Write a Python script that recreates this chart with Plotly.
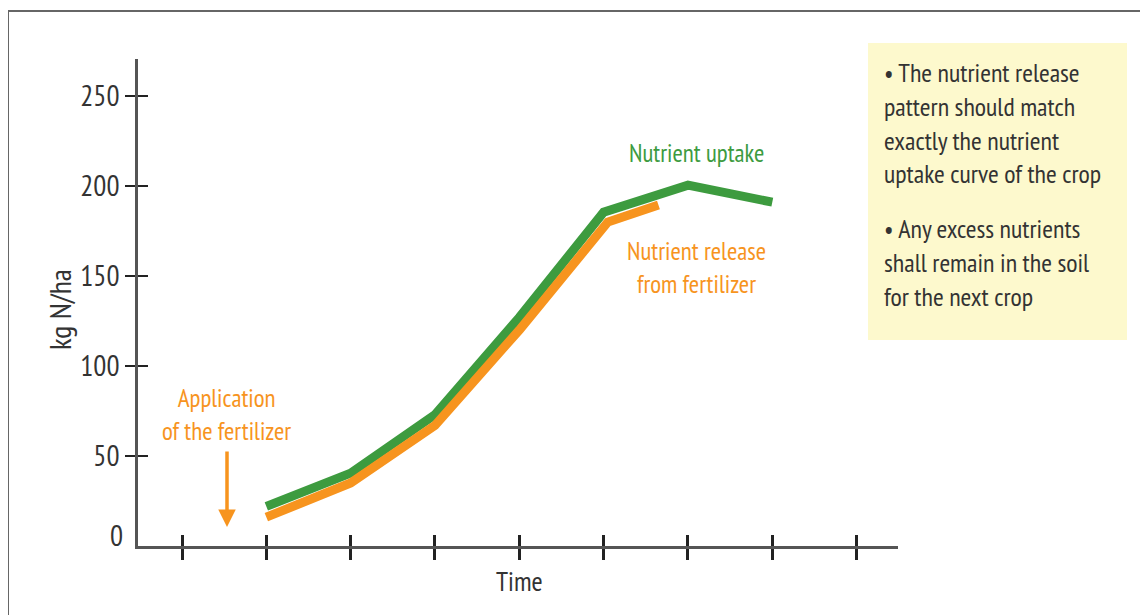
import plotly.graph_objects as go

# ---- data ----
time_uptake = [1, 2, 3, 4, 5, 6, 7]
uptake = [22, 40.5, 73, 127, 185.5, 200.5, 191]
time_release = [1, 2, 3, 4, 5.05, 5.65]
release = [16, 35, 67, 120, 180, 189.5]
x_ticks = [0, 1, 2, 3, 4, 5, 6, 7, 8]
y_ticks = [50, 100, 150, 200, 250]
y_tick_text = ["50", "100", "150", "200", "250"]

# page has an 8px body margin, so the figure is 8px smaller than the window
W, H = 1140, 607
OFF = 8
GREEN = "#3d9b3f"
ORANGE = "#f7941e"
TEXT = "#333333"
FONT = "PT Sans Narrow, Fira Sans Condensed, Asap Condensed, Archivo Narrow, sans-serif"


def px(x):
    return (x - OFF) / W


def py(y):
    return 1 - (y - OFF) / H


fig = go.Figure()
fig.add_trace(go.Scatter(x=time_uptake, y=uptake, mode="lines",
                         line=dict(color=GREEN, width=9), showlegend=False,
                         hoverinfo="skip"))
fig.add_trace(go.Scatter(x=time_release, y=release, mode="lines",
                         line=dict(color=ORANGE, width=9), showlegend=False,
                         hoverinfo="skip"))
# helper trace so that the overlay axes (crossing tick marks) are drawn
fig.add_trace(go.Scatter(x=[], y=[], xaxis="x2", yaxis="y2", showlegend=False))

xr = [(138 - 182) / 84.33, (898 - 182) / 84.33]
yr = [0, (546 - 59) / 1.8]
xdom = [px(138), px(898)]
ydom = [py(546), py(59)]

axis_common = dict(showgrid=False, zeroline=False, automargin=False)

fig.update_layout(
    width=W, height=H,
    margin=dict(l=0, r=0, t=0, b=0),
    paper_bgcolor="white", plot_bgcolor="white",
    font=dict(family=FONT, color=TEXT, size=26),
    xaxis=dict(domain=xdom, range=xr, tickvals=x_ticks, showticklabels=False,
               ticks="outside", ticklen=11, tickwidth=3, tickcolor="#222222",
               showline=True, linecolor="#555555", linewidth=2.5,
               anchor="y", **axis_common),
    xaxis2=dict(overlaying="x", range=xr, tickvals=x_ticks, showticklabels=False,
                ticks="inside", ticklen=11, tickwidth=3, tickcolor="#222222",
                showline=False, anchor="y", **axis_common),
    yaxis=dict(domain=ydom, range=yr, tickvals=y_ticks, ticktext=y_tick_text,
               ticks="outside", ticklen=10, tickwidth=2, tickcolor="#222222",
               showline=True, linecolor="#555555", linewidth=2.5,
               tickfont=dict(size=29, color=TEXT), anchor="x", **axis_common),
    yaxis2=dict(overlaying="y", range=yr, tickvals=y_ticks, showticklabels=False,
                ticks="inside", ticklen=10, tickwidth=2, tickcolor="#222222",
                showline=False, anchor="x", **axis_common),
)

shapes = [
    # outer border
    dict(type="rect", xref="paper", yref="paper", x0=px(8), y0=-0.05,
         x1=1.05, y1=py(11), line=dict(color="#666666", width=2),
         fillcolor="rgba(0,0,0,0)", layer="below"),
    # note box
    dict(type="rect", xref="paper", yref="paper", x0=px(868), y0=py(340),
         x1=px(1127), y1=py(43), line=dict(width=0),
         fillcolor="#fdf9cd", layer="below"),
]
fig.update_layout(shapes=shapes)

ann = [
    dict(text="0", x=px(125), y=py(535), xanchor="right", yanchor="middle",
         font=dict(size=29, color=TEXT)),
    dict(text="kg N/ha", x=px(60), y=py(310), textangle=-90,
         xanchor="center", yanchor="middle", font=dict(size=30, color=TEXT)),
    dict(text="Time", x=px(519), y=py(581), xanchor="center", yanchor="middle",
         font=dict(size=27, color=TEXT)),
    dict(text="Application<br>of the fertilizer", x=px(227), y=py(414),
         xanchor="center", yanchor="middle", align="center",
         font=dict(size=25, color=ORANGE)),
    dict(text="Nutrient uptake", x=px(696), y=py(153), xanchor="center",
         yanchor="middle", font=dict(size=25, color=GREEN)),
    dict(text="Nutrient release<br>from fertilizer", x=px(696), y=py(267),
         xanchor="center", yanchor="middle", align="center",
         font=dict(size=25, color=ORANGE)),
    dict(text="\u2022 The nutrient release<br>pattern should match<br>"
              "exactly the nutrient<br>uptake curve of the crop",
         x=px(882), y=py(123.5), xanchor="left", yanchor="middle", align="left",
         font=dict(size=26, color=TEXT)),
    dict(text="\u2022 Any excess nutrients<br>shall remain in the soil<br>"
              "for the next crop",
         x=px(882), y=py(263), xanchor="left", yanchor="middle", align="left",
         font=dict(size=26, color=TEXT)),
]
for a in ann:
    a.update(xref="paper", yref="paper", showarrow=False)

# arrow marking the fertilizer application
ann.append(dict(text="", x=px(227), y=py(527), xref="paper", yref="paper",
                ax=0, ay=-77, showarrow=True, arrowhead=2, arrowsize=1.0,
                arrowwidth=3.5, arrowcolor=ORANGE))
fig.update_layout(annotations=ann)

fig.write_html("out.html")
